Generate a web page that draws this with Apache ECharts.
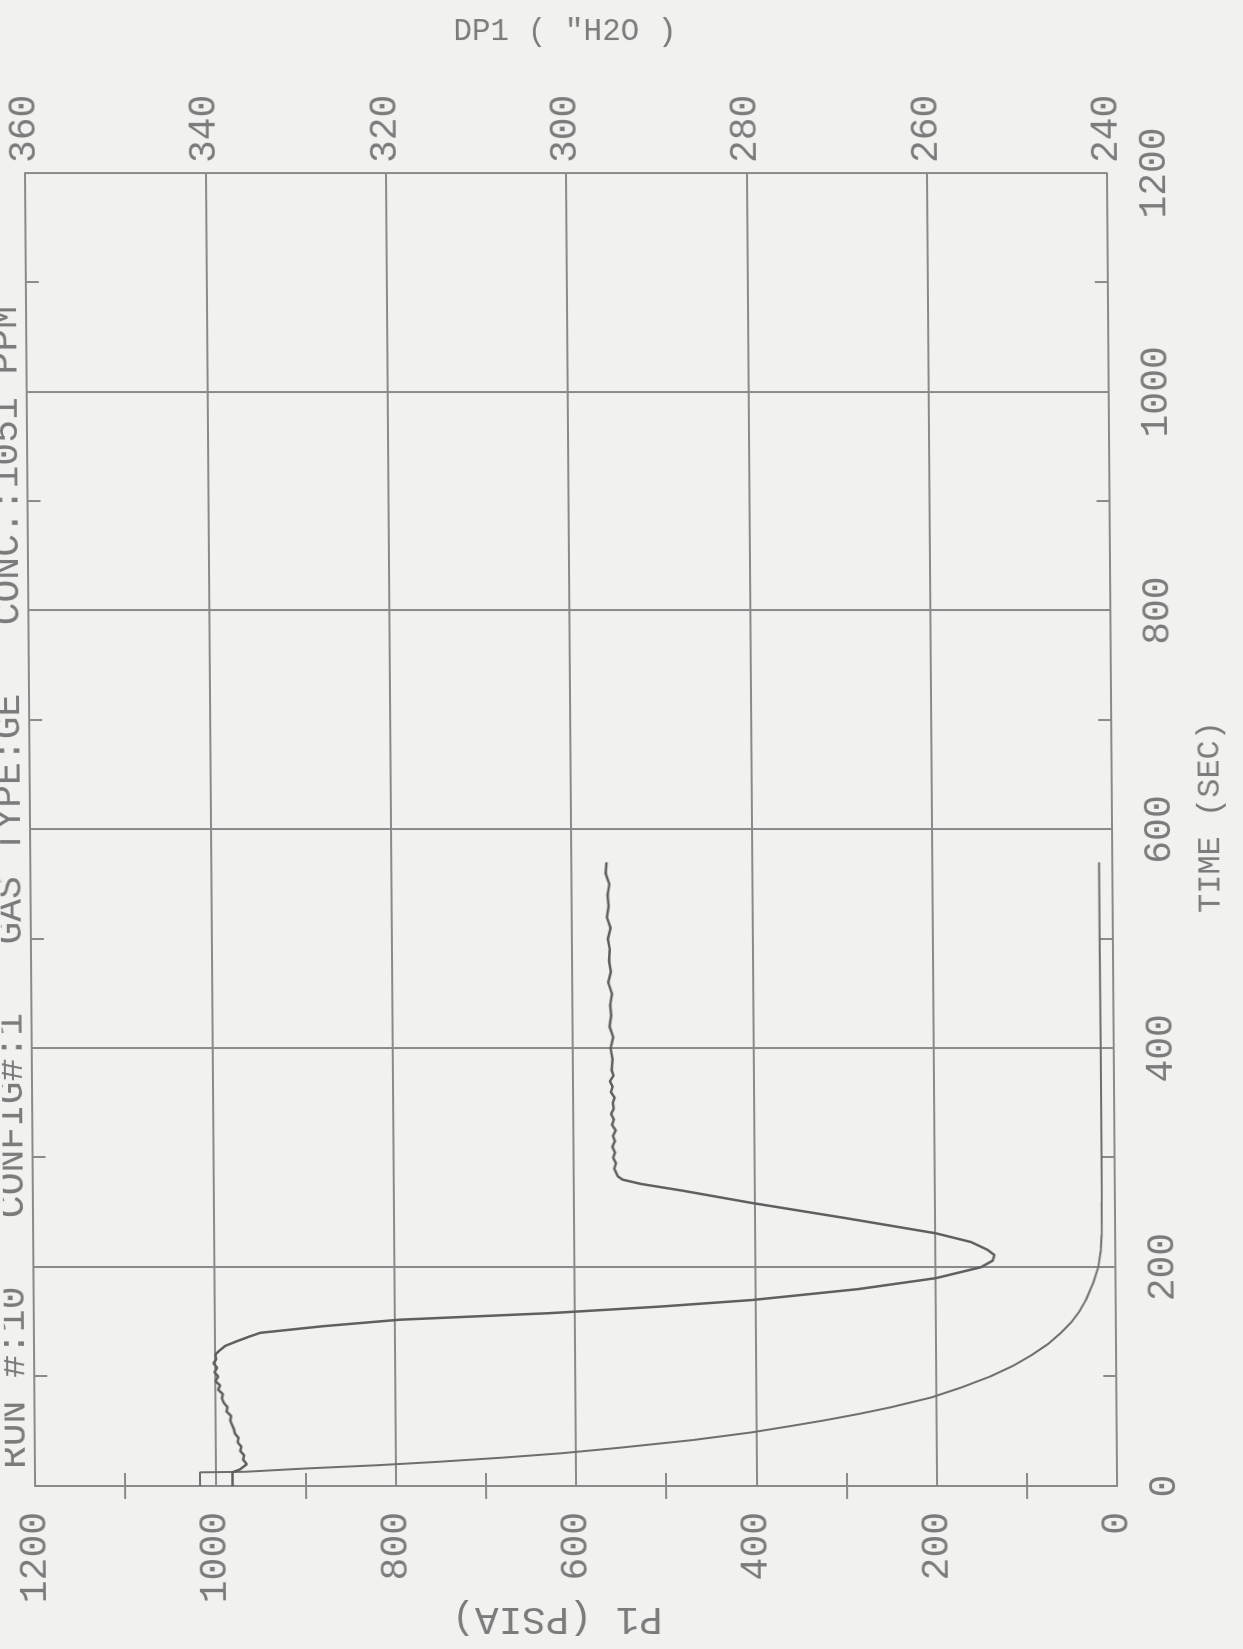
<!DOCTYPE html>
<html>
<head>
<meta charset="utf-8">
<script src="https://cdn.jsdelivr.net/npm/echarts@6/dist/echarts.min.js"></script>
<style>
  html, body { margin: 0; padding: 0; width: 1243px; height: 1649px; overflow: hidden; background: #f1f1ef; }
  /* the plot is laid out landscape and turned a quarter turn onto the portrait page */
  #page { position: absolute; left: 0; top: 0; width: 1243px; height: 1649px;
          transform: skewX(0.44deg); transform-origin: 50% 50%; }
  #chart { position: absolute; left: 0; top: 0; width: 1649px; height: 1243px;
           transform-origin: 0 0; transform: translateY(1649px) rotate(-90deg); }
</style>
</head>
<body>
<div id="page"><div id="chart"></div></div>
<script>
// Run header
const runTitle = 'RUN #:10   CONFIG#:1   GAS TYPE:GE   CONC.:1051 PPM';

// Upstream pressure P1 (psia) versus time (s)
const p1Time = [0, 12.5, 13, 16, 19, 22, 26, 30, 35, 42, 49, 55, 60, 66, 72, 81, 90, 100, 110, 120, 130, 140, 150, 160, 170, 185, 200, 215, 230, 260, 300, 400, 500, 570];
const p1Psia = [1017, 1017, 967, 900, 820, 755, 680, 615, 551, 470, 405, 360, 324, 285, 250, 205, 172, 140, 114, 93, 75, 61, 49, 40, 33, 25, 19, 16, 15, 14.6, 14.5, 14.5, 14.6, 14.6];

// Differential pressure DP1 (inches of water) versus time (s)
const dp1Time = [0, 12.5, 15, 20, 24, 28, 32, 36, 40, 44, 48, 52, 56, 60, 64, 68, 72, 76, 80, 84, 88, 92, 96, 100, 104, 108, 112, 116, 120, 124,
                 128, 132, 136, 140, 146, 152, 158, 164, 170, 180, 190, 200, 206, 211, 216, 223, 231, 245, 258.6, 270, 276, 280, 283,
                 290, 295, 300, 305, 310, 315, 320, 325, 330, 335, 340, 345, 350, 355, 360, 365, 370, 375, 380, 390, 400, 410, 420, 430,
                 440, 450, 460, 470, 480, 490, 500, 510, 520, 530, 540, 550, 560, 570];
const dp1H2O = [338.1, 338.1, 337.3, 336.5, 336.9, 336.8, 337.2, 337.1, 337.5, 337.4, 337.8, 337.9, 338.1, 338.3, 338.2, 338.7, 338.6, 339.0, 339.2, 339.1, 339.6, 339.4, 339.9, 339.6, 340.0, 339.7, 340.1, 339.8, 339.9, 339.4,
                338.8, 337.6, 336.3, 334.9, 328.0, 319.4, 302.7, 290.5, 280.3, 268.5, 259.9, 254.9, 253.6, 253.4, 254.2, 256.0, 259.9, 270.0, 280.2, 288.0, 292.5, 294.6, 295.1,
                295.5, 295.3, 295.6, 295.4, 295.7, 295.4, 295.6, 295.3, 295.7, 295.5, 295.8, 295.5, 295.6, 295.4, 295.8, 295.6, 295.9, 295.5, 295.7, 295.6, 295.8, 295.5, 295.9, 295.7,
                295.8, 295.6, 296.0, 295.7, 295.9, 295.8, 296.0, 295.7, 296.1, 295.9, 296.0, 295.8, 296.2, 296.1];

const ink = '#7b7b7b';
const lineInk = '#8a8a8a';
const font = 'Liberation Mono';

const zip = (xs, ys) => xs.map((x, i) => [x, ys[i]]);
const plain = v => String(v);

const chart = echarts.init(document.getElementById('chart'), null, { renderer: 'canvas' });

const tickLabel = { fontFamily: font, fontSize: 38, color: ink, formatter: plain };
const axisLine = { show: true, lineStyle: { color: lineInk, width: 2 } };
const minorTick = { show: true, splitNumber: 2, length: 13, lineStyle: { color: lineInk, width: 2 } };

chart.setOption({
  backgroundColor: 'transparent',
  animation: false,
  title: {
    text: runTitle,
    left: 175,
    top: -14,
    textStyle: { fontFamily: font, fontSize: 38, fontWeight: 'normal', color: ink }
  },
  grid: { left: 163, right: 173, top: 30, bottom: 131, containLabel: false, outerBoundsMode: 'none' },
  xAxis: [
    {
      type: 'value', position: 'bottom', min: 0, max: 1200, interval: 200,
      name: 'TIME (SEC)', nameLocation: 'middle', nameGap: 83, nameMoveOverlap: false,
      nameTextStyle: { fontFamily: font, fontSize: 32, color: ink, padding: [0, 0, 0, 25] },
      axisLine: axisLine,
      axisTick: { show: false, inside: true },
      minorTick: minorTick,
      axisLabel: Object.assign({ margin: 29 }, tickLabel),
      splitLine: { show: true, lineStyle: { color: lineInk, width: 2 } }
    },
    {
      type: 'value', position: 'top', min: 0, max: 1200, interval: 200,
      axisLine: axisLine,
      axisTick: { show: false, inside: true },
      minorTick: minorTick,
      axisLabel: { show: false },
      splitLine: { show: false }
    }
  ],
  yAxis: [
    {
      type: 'value', position: 'left', min: 0, max: 1200, interval: 200,
      name: 'P1 (PSIA)', nameLocation: 'middle', nameGap: 113, nameRotate: 90, nameMoveOverlap: false,
      nameTextStyle: { fontFamily: font, fontSize: 39, color: ink, padding: [0, 0, 0, 40] },
      axisLine: axisLine,
      axisTick: { show: false, inside: true },
      minorTick: minorTick,
      axisLabel: Object.assign({ margin: 26 }, tickLabel),
      splitLine: { show: true, lineStyle: { color: lineInk, width: 2 } }
    },
    {
      type: 'value', position: 'right', min: 240, max: 360, interval: 20,
      name: 'DP1 ( "H2O )', nameLocation: 'middle', nameGap: 126, nameRotate: -90, nameMoveOverlap: false,
      nameTextStyle: { fontFamily: font, fontSize: 31, color: ink },
      axisLine: axisLine,
      axisTick: { show: false, inside: true },
      minorTick: minorTick,
      axisLabel: Object.assign({ margin: 10 }, tickLabel),
      splitLine: { show: false }
    }
  ],
  series: [
    {
      name: 'P1', type: 'line', xAxisIndex: 0, yAxisIndex: 0,
      data: zip(p1Time, p1Psia),
      showSymbol: false, smooth: false,
      lineStyle: { color: '#6e6e6e', width: 2 }
    },
    {
      name: 'DP1', type: 'line', xAxisIndex: 0, yAxisIndex: 1,
      data: zip(dp1Time, dp1H2O),
      showSymbol: false, smooth: false,
      lineStyle: { color: '#5f5f5f', width: 2.5 }
    }
  ]
});
</script>
</body>
</html>
